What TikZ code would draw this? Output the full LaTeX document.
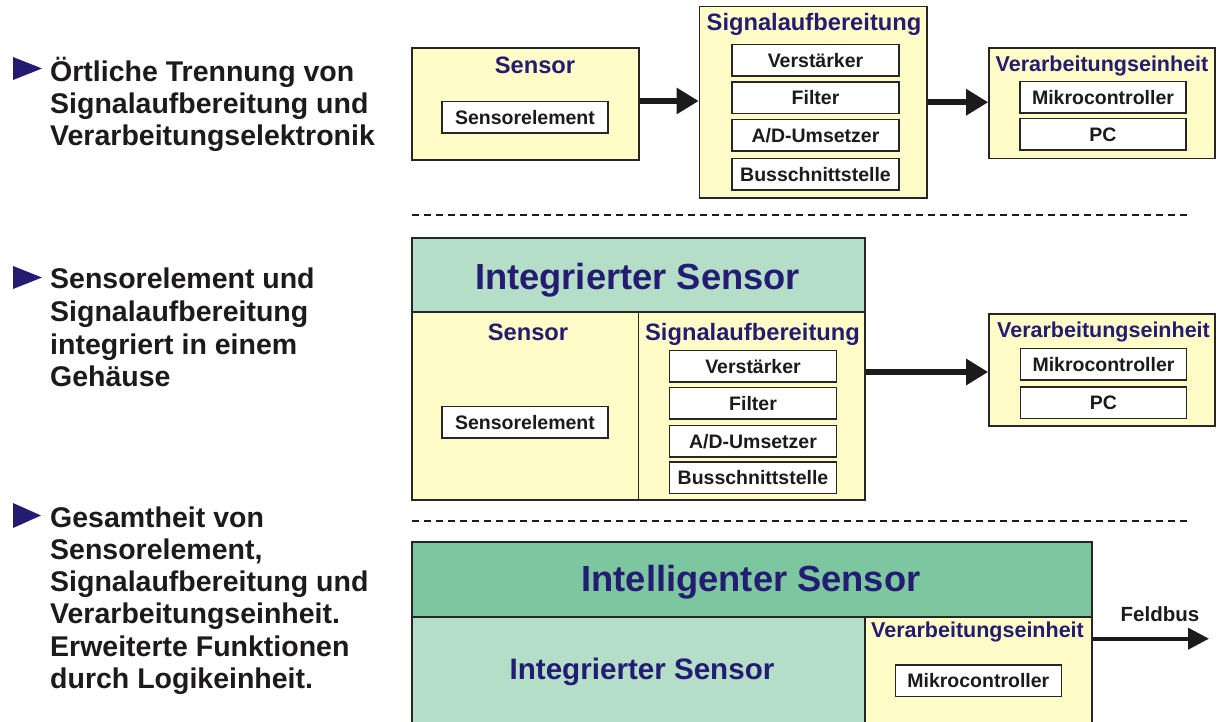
\documentclass[tikz,border=0pt]{standalone}
\usepackage{fontspec}
\setmainfont{Liberation Sans}
\usetikzlibrary{arrows.meta}

\definecolor{paleyellow}{HTML}{FFFCC8}
\definecolor{lightmint}{HTML}{B4DEC8}
\definecolor{midgreen}{HTML}{7CC6A0}
\definecolor{navy}{HTML}{231C72}
\definecolor{ink}{HTML}{1C1A1A}
\definecolor{edge}{HTML}{262626}

\begin{document}
\begin{tikzpicture}[x=1pt,y=-1pt,
  frame/.style={draw=edge, line width=1.6pt, fill=paleyellow, inner sep=0pt},
  mintframe/.style={frame, fill=lightmint},
  greenframe/.style={frame, fill=midgreen},
  item/.style={draw=edge, line width=1.5pt, fill=white, inner sep=0pt,
    minimum width=166pt, minimum height=31.5pt, text height=14pt, text depth=0pt,
    text=ink, font=\fontsize{19.5}{22}\selectfont\bfseries},
  ttl/.style={anchor=base, inner sep=0pt, text=navy,
    font=\fontsize{23.7}{26}\selectfont\bfseries},
  unitttl/.style={ttl, font=\fontsize{21.5}{24}\selectfont\bfseries},
  bigttl/.style={ttl, font=\fontsize{36.3}{40}\selectfont\bfseries},
  line/.style={anchor=base west, inner sep=0pt, text=ink,
    font=\fontsize{28.5}{32}\selectfont\bfseries},
  flow/.style={draw=ink, line width=6.5pt, -{Triangle[length=22pt,width=25pt]}},
  busflow/.style={draw=ink, line width=4pt, -{Triangle[length=21pt,width=21pt]}},
  separator/.style={draw=ink, line width=2pt, dash pattern=on 7.3pt off 4.7pt}
]
\useasboundingbox (0,0) rectangle (1216,722);
\clip (0,0) rectangle (1216,722);

% ---------- bullet texts ----------
\fill[navy] (13,57) -- (13,80) -- (42,68.5) -- cycle;
\node[line] (l1a) at (50,82)  {Örtliche Trennung von};
\node[line] (l1b) at (50,114) {Signalaufbereitung und};
\node[line] (l1c) at (50,146) {Verarbeitungselektronik};

\fill[navy] (13,266) -- (13,289) -- (42,277.5) -- cycle;
\node[line] (l2a) at (50,289) {Sensorelement und};
\node[line] (l2b) at (50,321) {Signalaufbereitung};
\node[line] (l2c) at (50,354) {integriert in einem};
\node[line] (l2d) at (50,386) {Gehäuse};

\fill[navy] (13,503) -- (13,528) -- (41,515.5) -- cycle;
\node[line] (l3a) at (50,527) {Gesamtheit von};
\node[line] (l3b) at (50,559) {Sensorelement,};
\node[line] (l3c) at (50,591) {Signalaufbereitung und};
\node[line] (l3d) at (50,623) {Verarbeitungseinheit.};
\node[line] (l3e) at (50,656) {Erweiterte Funktionen};
\node[line] (l3f) at (50,688) {durch Logikeinheit.};

% ---------- first chain: separate units ----------
\node[frame, minimum width=227pt, minimum height=112pt] (sensA) at (525.5,104) {};
\node[ttl] (sensAt) at (535,74) {Sensor};
\node[item] (seA) at (525,117.5) {Sensorelement};

\node[frame, minimum width=227.5pt, minimum height=191.5pt] (sigA) at (813.25,102.25) {};
\node[ttl] (sigAt) at (814,31) {Signalaufbereitung};
\node[item, minimum width=167pt] (ampA) at (815.5,60.5) {Verstärker};
\node[item, minimum width=167pt] (filA) at (815.5,98) {Filter};
\node[item, minimum width=167pt] (adcA) at (815.5,135.5) {A/D-Umsetzer};
\node[item, minimum width=167pt] (busA) at (815.5,174.5) {Busschnittstelle};

\node[frame, minimum width=226pt, minimum height=110.5pt] (verA) at (1102,103.25) {};
\node[unitttl] (verAt) at (1102,72) {Verarbeitungseinheit};
\node[item] (mcA) at (1103,97.5) {Mikrocontroller};
\node[item] (pcA) at (1103,134.5) {PC};

\coordinate (a1) at ([yshift=3pt]sensA.east);
\draw[flow] (a1) -- (a1 -| sigA.west);
\draw[flow] (sigA.east) -- (sigA.east -| verA.west);

\coordinate (d1a) at (412,215);
\coordinate (d1b) at (1190,215);
\draw[separator] (d1a) -- (d1b);

% ---------- second chain: integrated sensor ----------
\node[mintframe, minimum width=453pt, minimum height=74pt] (hdrB) at (638.5,275) {};
\node[bigttl] (hdrBt) at (637.5,290) {Integrierter Sensor};
\node[frame, minimum width=226.5pt, minimum height=188pt] (secB1) at (525.25,406) {};
\node[frame, minimum width=226.5pt, minimum height=188pt] (secB2) at (751.75,406) {};
\node[ttl] (secB1t) at (528,340) {Sensor};
\node[ttl] (secB2t) at (752.5,340) {Signalaufbereitung};
\node[item] (seB) at (525,422) {Sensorelement};
\node[item, minimum width=167pt] (ampB) at (753,366) {Verstärker};
\node[item, minimum width=167pt] (filB) at (753,403) {Filter};
\node[item, minimum width=167pt] (adcB) at (753,441) {A/D-Umsetzer};
\node[item, minimum width=167pt] (busB) at (753,477.5) {Busschnittstelle};

\node[frame, minimum width=226pt, minimum height=112pt] (verB) at (1102,370) {};
\node[unitttl] (verBt) at (1103.5,337.3) {Verarbeitungseinheit};
\node[item] (mcB) at (1103.5,364) {Mikrocontroller};
\node[item] (pcB) at (1103.5,402.5) {PC};

\coordinate (b1) at ([yshift=-2pt]verB.west);
\draw[flow] (b1 -| secB2.east) -- (b1);

\coordinate (d2a) at (412,521);
\coordinate (d2b) at (1190,521);
\draw[separator] (d2a) -- (d2b);

% ---------- third chain: intelligent sensor ----------
\node[greenframe, minimum width=680pt, minimum height=75pt] (hdrC) at (752,579.5) {};
\node[bigttl] (hdrCt) at (751,591.7) {Intelligenter Sensor};
\node[mintframe, minimum width=453pt, minimum height=143pt] (secC1) at (638.5,688.5) {};
\node[frame, minimum width=227pt, minimum height=143pt] (secC2) at (978.5,688.5) {};
\node[ttl, font=\fontsize{29.6}{33}\selectfont\bfseries] (secC1t) at (642,679) {Integrierter Sensor};
\node[unitttl] (secC2t) at (977.5,637.3) {Verarbeitungseinheit};
\node[item] (mcC) at (978.3,680.8) {Mikrocontroller};

\coordinate (fb) at (1209,638.7);
\draw[busflow] (fb -| secC2.east) -- (fb);
\node[ttl, text=ink, font=\fontsize{20.5}{23}\selectfont\bfseries] (fbl) at (1160,621.7) {Feldbus};
\end{tikzpicture}
\end{document}
